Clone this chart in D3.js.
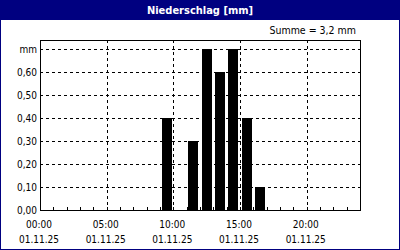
<!DOCTYPE html>
<html>
<head>
<meta charset="utf-8">
<script src="https://cdn.jsdelivr.net/npm/d3@7"></script>
<style>
  body { margin: 0; background: #fff; }
  text { font-family: "DejaVu Sans Condensed", "DejaVu Sans", sans-serif; }
</style>
</head>
<body>
<div class="canvas"></div>
<script>
// Data: hour of day -> precipitation in mm
const hours = [9, 11, 12, 13, 14, 15, 16];
const values = [0.4, 0.3, 0.7, 0.6, 0.7, 0.4, 0.1];
const yTicks = [0, 0.1, 0.2, 0.3, 0.4, 0.5, 0.6, 0.7];
const xTicks = [0, 5, 10, 15, 20];
const dateLabel = '01.11.25';
const title = 'Niederschlag [mm]';
const sumLabel = 'Summe = 3,2 mm';

// Dimensions
const dims = { width: 400, height: 250, titleHeight: 20 };
const plot = { left: 40, right: 360, top: 40, bottom: 210 };

const svg = d3.select('.canvas')
    .append('svg')
    .attr('width', dims.width)
    .attr('height', dims.height);

// Frame and title bar
svg.append('rect')
    .attr('x', 0.5).attr('y', 0.5)
    .attr('width', dims.width - 1).attr('height', dims.height - 1)
    .attr('fill', '#fff')
    .attr('stroke', '#000080');

svg.append('rect')
    .attr('width', dims.width).attr('height', dims.titleHeight)
    .attr('fill', '#000080');

svg.append('text')
    .attr('x', dims.width / 2).attr('y', 14)
    .attr('text-anchor', 'middle')
    .attr('fill', '#fff')
    .attr('font-weight', 'bold')
    .attr('font-size', 11)
    .text(title);

svg.append('text')
    .attr('x', 356).attr('y', 34)
    .attr('text-anchor', 'end')
    .attr('font-size', 10.5)
    .attr('fill', '#000')
    .text(sumLabel);

// Scales
const x = d3.scaleLinear().domain([0, 24]).range([plot.left, plot.right]);
const y = d3.scaleLinear().domain([0, 0.74]).range([plot.bottom, plot.top]);

// Grid
const grid = svg.append('g')
    .attr('stroke', '#000')
    .attr('stroke-dasharray', '3,3');

grid.selectAll('line.h')
    .data(yTicks.slice(1))
    .enter()
    .append('line')
        .attr('x1', plot.left).attr('x2', plot.right)
        .attr('y1', d => Math.round(y(d)) + 0.5)
        .attr('y2', d => Math.round(y(d)) + 0.5);

grid.selectAll('line.v')
    .data(xTicks.slice(1))
    .enter()
    .append('line')
        .attr('y1', plot.top).attr('y2', plot.bottom)
        .attr('x1', d => Math.round(x(d)) + 0.5)
        .attr('x2', d => Math.round(x(d)) + 0.5);

// Bars
const barW = 0.75;
svg.append('g').selectAll('rect')
    .data(hours.map((h, i) => ({ h, v: values[i] })))
    .enter()
    .append('rect')
        .attr('x', d => Math.round(x(d.h + 0.5 - barW / 2)))
        .attr('width', d => Math.round(x(d.h + 0.5 + barW / 2)) - Math.round(x(d.h + 0.5 - barW / 2)))
        .attr('y', d => Math.round(y(d.v)))
        .attr('height', d => plot.bottom - Math.round(y(d.v)))
        .attr('fill', '#000');

// Plot frame
svg.append('rect')
    .attr('x', plot.left + 0.5).attr('y', plot.top + 0.5)
    .attr('width', plot.right - plot.left)
    .attr('height', plot.bottom - plot.top)
    .attr('fill', 'none')
    .attr('stroke', '#000');

// Hour minor ticks (inside)
svg.append('g').selectAll('line')
    .data(d3.range(1, 24))
    .enter()
    .append('line')
        .attr('x1', d => Math.round(x(d)) + 0.5)
        .attr('x2', d => Math.round(x(d)) + 0.5)
        .attr('y1', plot.bottom).attr('y2', plot.bottom - 3)
        .attr('stroke', '#000');

// Y labels
const fmt = v => d3.format('.2f')(v).replace('.', ',');
svg.append('g').selectAll('text')
    .data(yTicks)
    .enter()
    .append('text')
        .attr('x', plot.left - 3)
        .attr('y', d => y(d) + 4)
        .attr('text-anchor', 'end')
        .attr('font-size', 10)
        .attr('fill', '#000')
        .text(d => d === 0.7 ? 'mm' : fmt(d));

// X labels: time and date
const xl = svg.append('g').selectAll('g')
    .data(xTicks)
    .enter()
    .append('g')
        .attr('transform', d => `translate(${x(d) - 1}, 0)`);

xl.append('text')
    .attr('y', 228)
    .attr('text-anchor', 'middle')
    .attr('font-size', 10)
    .attr('fill', '#000')
    .text(d => d3.format('02')(d) + ':00');

xl.append('text')
    .attr('y', 243)
    .attr('text-anchor', 'middle')
    .attr('font-size', 10)
    .attr('fill', '#000')
    .text(dateLabel);
</script>
</body>
</html>
